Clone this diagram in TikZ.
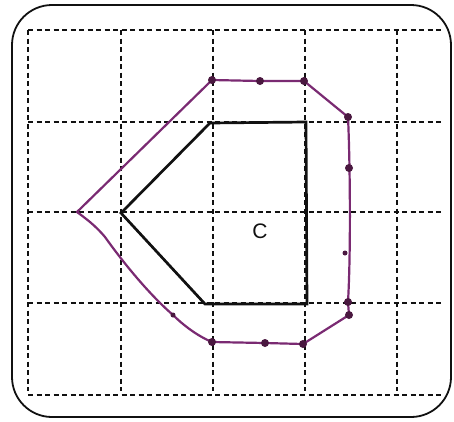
\documentclass[tikz,border=0pt]{standalone}
\usepackage{xcolor}
\usepackage{tikz}
\usepackage{fontspec}
\setsansfont{Liberation Sans}
\definecolor{ink}{HTML}{111111}
\definecolor{plum}{HTML}{7A2A72}
\definecolor{plumdot}{HTML}{4A1840}

\tikzset{
  gridline/.style={draw=ink, line width=1.3pt, dash pattern=on 5pt off 3.5pt},
  frame/.style={draw=ink, line width=1.8pt, rounded corners=40pt},
  shapeC/.style={draw=ink, line width=2.7pt, line join=miter},
  outline/.style={draw=plum, line width=2.2pt, line join=round, line cap=round},
  blob/.style={circle, fill=plumdot, inner sep=0pt, minimum size=8pt}
}

\begin{document}
\begin{tikzpicture}[x=1pt, y=-1pt]
\useasboundingbox (0,0) rectangle (454,421);
\fill[white] (0,0) rectangle (454,421);

% frame and grid
\draw[frame] (12,5) rectangle (451,417);
\foreach \gx in {28,121,213,305,397}
  \draw[gridline] (\gx,30) -- (\gx,391);
\foreach \gy in {30,122,212,303,395}
  \draw[gridline] (28,\gy) -- (443,\gy);

% figure C
\coordinate (ctl) at (210,123);
\coordinate (ctr) at (306,122);
\coordinate (cbr) at (307,304);
\coordinate (cbl) at (205,304);
\coordinate (ctip) at (121,213);
\draw[shapeC] (ctl) -- (ctr) -- (cbr) -- (cbl) -- (ctip) -- cycle;
\node[font=\sffamily\fontsize{21}{21}\selectfont, text=ink] (lblC) at (260,231) {C};

% enlarged outline
\coordinate (otip) at (77,212);
\coordinate (o1) at (212,80);
\coordinate (o2) at (260,81);
\coordinate (o3) at (304,81);
\coordinate (o4) at (348,117);
\coordinate (o5) at (349,168);
\coordinate (o6) at (345,253);
\coordinate (o7) at (348,302);
\coordinate (o8) at (349,315);
\coordinate (o9) at (303,344);
\coordinate (o10) at (265,343);
\coordinate (o11) at (212,342);
\coordinate (o12) at (173,315);
\draw[outline] (otip) -- (o1) -- (o2) -- (o3) -- (o4)
  .. controls (350,160) and (351,250) .. (o7) -- (o8) -- (o9) -- (o10) -- (o11)
  .. controls (195,335) and (180,322) .. (o12)
  .. controls (150,295) and (125,265) .. (105,237)
  .. controls (95,225) and (85,218) .. (otip);
\foreach \p in {o1,o2,o3,o4,o5,o7,o8,o9,o10,o11}
  \node[blob] at (\p) {};
\node[blob, minimum size=5pt] at (o6) {};
\node[blob, minimum size=5pt] at (o12) {};
\end{tikzpicture}
\end{document}
